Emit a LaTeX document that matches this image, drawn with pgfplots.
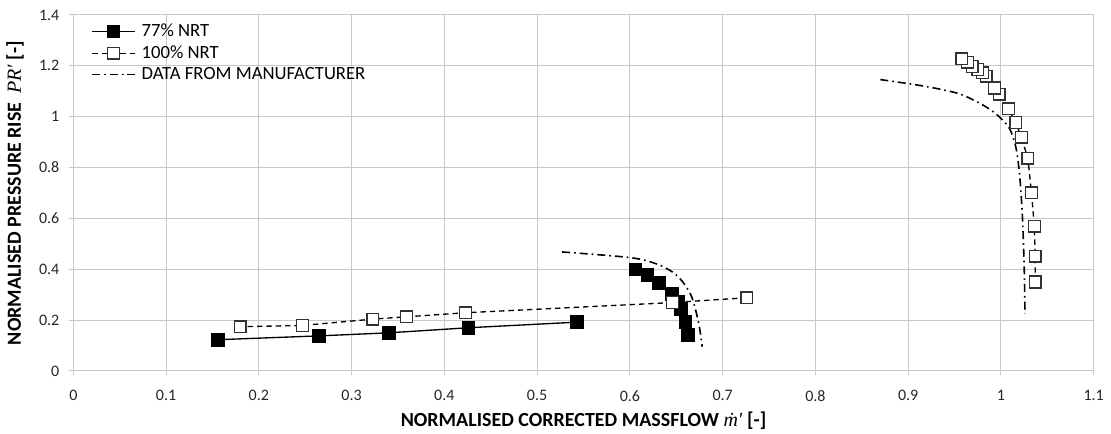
\documentclass[border=0pt]{standalone}
\usepackage{pgfplots}
\pgfplotsset{compat=1.18}
\usepackage{fontspec}
\setmainfont{Carlito}
\newfontfamily\symfont{Liberation Serif}

\definecolor{gridgray}{RGB}{200,200,200}
\definecolor{edgegray}{RGB}{50,50,50}

\begin{document}
\begin{tikzpicture}
\begin{axis}[
  name=ax,
  scale only axis,
  width=765.3pt, height=267pt,
  xmin=0, xmax=1.1, ymin=0, ymax=1.4,
  xtick={0,0.1,...,1.1},
  ytick={0,0.2,...,1.4},
  xticklabels={0,0.1,0.2,0.3,0.4,0.5,0.6,0.7,0.8,0.9,1,1.1},
  yticklabels={0,0.2,0.4,0.6,0.8,1,1.2,1.4},
  grid=major,
  major grid style={gridgray, line width=0.75pt},
  axis line style={gridgray, line width=0.75pt},
  tick style={gridgray, line width=0.75pt},
  tick align=outside,
  major tick length=3pt,
  tick pos=left,
  ticklabel style={font=\fontsize{12}{14}\selectfont, text=black!85},
  /pgf/number format/assume math mode=true,
  xticklabel style={yshift=-8pt},
  yticklabel style={xshift=-4pt},
  xlabel={\textbf{NORMALISED CORRECTED MASSFLOW} {\symfont\itshape ṁ′} \textbf{[-]}},
  ylabel={\textbf{NORMALISED PRESSURE RISE} \ {\symfont\itshape PR′} \textbf{[-]}},
  xlabel style={at={(axis description cs:0.5,-0.139)}, anchor=center, font=\fontsize{15}{18}\selectfont},
  ylabel style={at={(axis description cs:-0.057,0.5)}, anchor=center, font=\fontsize{15}{18}\selectfont},
  legend image code/.code={
    \draw[mark repeat=2, mark phase=2, #1]
      plot coordinates {(0pt,0pt) (16pt,0pt) (32pt,0pt)};
  },
  legend style={draw=none, fill=none, at={(axis description cs:0.0135,0.99)},
    anchor=north west, font=\fontsize{14}{16}\selectfont,
    nodes={inner xsep=4.5pt}, row sep=1.2pt},
  legend cell align=left,
  clip=false,
]

% 77% NRT
\addplot[black, line width=1pt, mark=square*, mark size=4.7pt,
  mark options={solid, fill=black, draw=black}]
  coordinates {(0.156,0.123) (0.265,0.138) (0.340,0.150) (0.426,0.170) (0.543,0.192)};
\addlegendentry{77\% NRT}

% 100% NRT
\addplot[black, line width=1pt, dash pattern=on 4pt off 3pt, mark=square*, mark size=4.4pt,
  mark options={solid, fill=white, draw=edgegray, line width=1pt}]
  coordinates {(0.726,0.288) (0.646,0.269) (0.423,0.229) (0.359,0.213) (0.323,0.204) (0.247,0.179) (0.180,0.174)};
\addlegendentry{100\% NRT}

% manufacturer characteristic
\addplot[black, line width=1.2pt, dash pattern=on 6pt off 3pt on 1.2pt off 3pt, smooth, tension=0.5]
  coordinates {(0.527,0.468) (0.600,0.446) (0.628,0.422) (0.646,0.389) (0.657,0.350) (0.666,0.297) (0.671,0.238) (0.675,0.172) (0.678,0.095)};
\addlegendentry{DATA FROM MANUFACTURER}

\addplot[forget plot, black, line width=1.2pt, dash pattern=on 6pt off 3pt on 1.2pt off 3pt, smooth, tension=0.5]
  coordinates {(0.870,1.146) (0.919,1.119) (0.955,1.090) (0.980,1.047) (0.996,1.007) (1.009,0.955) (1.016,0.882) (1.020,0.777) (1.023,0.620) (1.025,0.422) (1.026,0.225)};

\addplot[forget plot, black, line width=1pt, mark=square*, mark size=4.7pt,
  mark options={solid, fill=black, draw=black}]
  coordinates {(0.606,0.399) (0.619,0.376) (0.631,0.346) (0.645,0.304) (0.652,0.272) (0.655,0.245) (0.660,0.192) (0.663,0.142)};

\addplot[forget plot, black, line width=1pt, dash pattern=on 4pt off 3pt, mark=square*, mark size=4.4pt,
  mark options={solid, fill=white, draw=edgegray, line width=1pt}]
  coordinates {(1.037,0.350) (1.037,0.451) (1.036,0.570) (1.033,0.701) (1.029,0.837) (1.022,0.920) (1.016,0.977) (1.008,1.031) (0.998,1.089) (0.993,1.113) (0.984,1.159) (0.980,1.172) (0.975,1.185) (0.969,1.198) (0.964,1.214) (0.958,1.228)};

\addplot[forget plot, black, line width=1pt, dash pattern=on 4pt off 3pt, mark=square*, mark size=4.4pt,
  mark options={solid, fill=white, draw=edgegray, line width=1pt}]
  coordinates {(0.646,0.269)};
\end{axis}
\pgfresetboundingbox
\path[use as bounding box] (ax.south west) ++(-55pt,-47.25pt) rectangle ([shift={(13pt,11.25pt)}]ax.north east);
\end{tikzpicture}
\end{document}
